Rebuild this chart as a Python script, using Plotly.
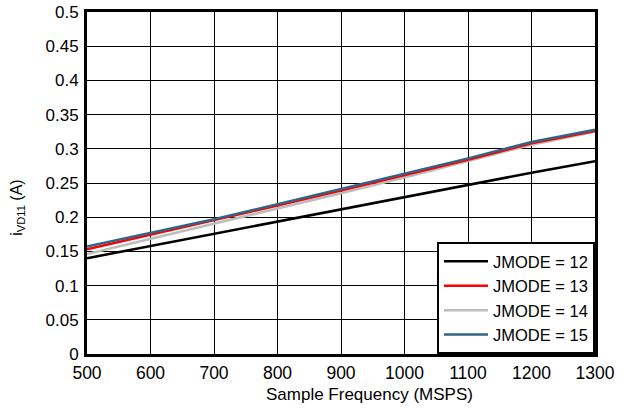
import plotly.graph_objects as go

freq = [500, 600, 700, 800, 900, 1000, 1100, 1200, 1300]
jmode12 = [0.140, 0.158, 0.176, 0.194, 0.211, 0.229, 0.247, 0.265, 0.282]
jmode13 = [0.153, 0.174, 0.195, 0.217, 0.239, 0.261, 0.284, 0.308, 0.326]
jmode14 = [0.146, 0.168, 0.190, 0.212, 0.235, 0.258, 0.282, 0.306, 0.325]
jmode15 = [0.157, 0.1765, 0.197, 0.219, 0.241, 0.263, 0.286, 0.310, 0.328]

x_ticks = [500, 600, 700, 800, 900, 1000, 1100, 1200, 1300]
y_ticks = [0, 0.05, 0.1, 0.15, 0.2, 0.25, 0.3, 0.35, 0.4, 0.45, 0.5]
y_labels = ["0", "0.05", "0.1", "0.15", "0.2", "0.25", "0.3", "0.35", "0.4", "0.45", "0.5"]

series = [
    ("JMODE = 12", jmode12, "#000000", 1),
    ("JMODE = 14", jmode14, "#bdbdbd", 3),
    ("JMODE = 13", jmode13, "#ff0000", 2),
    ("JMODE = 15", jmode15, "#2f6685", 4),
]

fig = go.Figure()
for name, vals, color, rank in series:
    fig.add_trace(go.Scatter(x=freq, y=vals, mode="lines", name=name,
                             line=dict(color=color, width=2.5), legendrank=rank))

font = "Liberation Sans, Arial, Helvetica, sans-serif"
fig.update_layout(
    width=626, height=408,
    margin=dict(l=87, r=31, t=12, b=54, autoexpand=False),
    paper_bgcolor="white", plot_bgcolor="white",
    font=dict(family=font, size=17, color="black"),
    showlegend=True,
    legend=dict(x=1, xanchor="right", y=0, yanchor="bottom",
                bgcolor="white", bordercolor="black", borderwidth=2,
                font=dict(size=16.5), tracegroupgap=0, itemwidth=44),
    xaxis=dict(range=[500, 1300], tickvals=x_ticks, ticks="",
               showgrid=True, gridcolor="black", gridwidth=1,
               showline=True, linecolor="black", linewidth=3, mirror=True,
               zeroline=False, tickfont=dict(size=17.5), automargin=False,
               ticklabelstandoff=1),
    yaxis=dict(range=[0, 0.5], tickvals=y_ticks, ticktext=y_labels, ticks="",
               showgrid=True, gridcolor="black", gridwidth=1,
               showline=True, linecolor="black", linewidth=3, mirror=True,
               zeroline=False, tickfont=dict(size=17), automargin=False,
               ticklabelstandoff=2),
    annotations=[
        dict(text="Sample Frequency (MSPS)", xref="paper", yref="paper",
             x=0.557, y=-0.117, xanchor="center", yanchor="middle",
             showarrow=False, font=dict(size=17)),
        dict(text="i<sub>VD11</sub> (A)", xref="paper", yref="paper",
             x=-0.136, y=0.43, xanchor="center", yanchor="middle",
             textangle=-90, showarrow=False, font=dict(size=16)),
    ],
)

fig.write_html("out.html", config={"displayModeBar": False},
               post_script="document.body.style.margin='0';")
